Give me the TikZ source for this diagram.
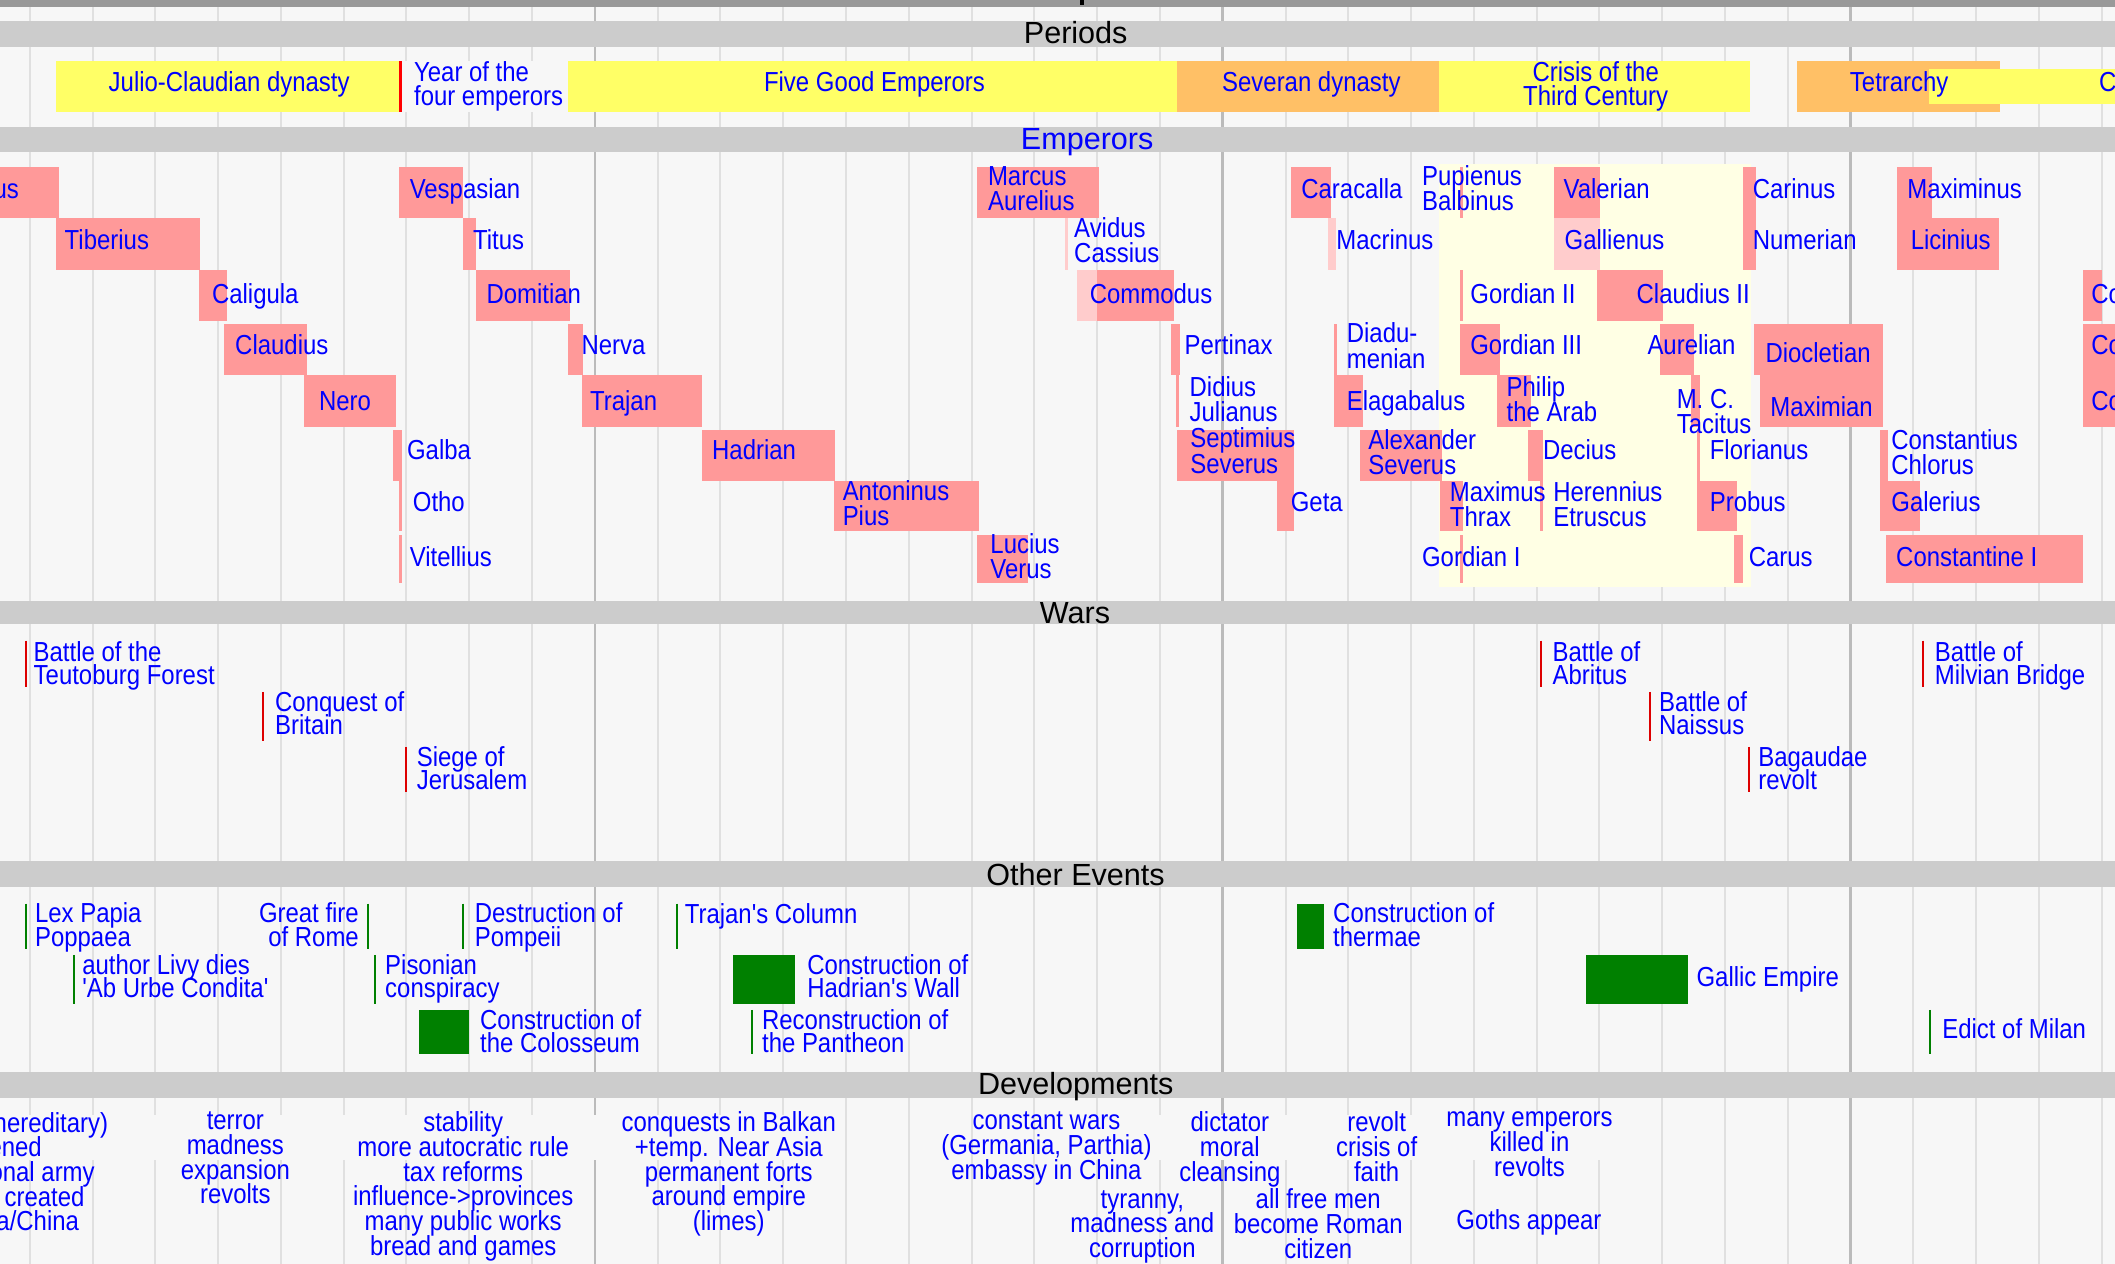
\documentclass[tikz,border=0pt]{standalone}
\usepackage{fontspec}
\newfontfamily\bodyf[FakeStretch=0.87]{Liberation Sans}
\newfontfamily\headf{Liberation Sans}
\definecolor{bgc}{HTML}{F7F7F7}
\definecolor{gminor}{HTML}{E0E0E0}
\definecolor{gmajor}{HTML}{BBBBBB}
\definecolor{bandc}{HTML}{CCCCCC}
\definecolor{topc}{HTML}{999999}
\definecolor{yel}{HTML}{FFFF66}
\definecolor{ora}{HTML}{FFC066}
\definecolor{pnk}{HTML}{FF9999}
\definecolor{lpnk}{HTML}{FFCCCC}
\definecolor{crm}{HTML}{FFFFE4}
\definecolor{txtb}{HTML}{0000FF}
\definecolor{warr}{HTML}{DD0000}
\definecolor{redl}{HTML}{FF0000}
\definecolor{evg}{HTML}{008000}
\lineskiplimit=-100pt
\begin{document}
\begin{tikzpicture}[x=0.75pt,y=-0.75pt,
 lab/.style={font=\bodyf\fontsize{15.3pt}{14pt}\selectfont,text=txtb,inner sep=0pt,outer sep=0pt,anchor=north west,align=left,yshift=11.3pt,execute at begin node={\rule{0pt}{11.3pt}}},
 labr/.style={lab,anchor=north east,align=right},
 wlab/.style={lab,font=\bodyf\fontsize{15.3pt}{13pt}\selectfont},
 wlabr/.style={wlab,anchor=north east,align=right},
 plab/.style={lab,font=\bodyf\fontsize{15.3pt}{13.6pt}\selectfont,anchor=north,align=center},
 pll/.style={lab,font=\bodyf\fontsize{15.3pt}{13.6pt}\selectfont},
 dlab/.style={lab,font=\bodyf\fontsize{15.3pt}{13.7pt}\selectfont,anchor=north,align=center},
 dend/.style={font=\bodyf\fontsize{15.3pt}{13.7pt}\selectfont,text=txtb,inner sep=0pt,outer sep=0pt,anchor=base east,text depth=0pt},
 head/.style={font=\headf\fontsize{17pt}{20pt}\selectfont,inner sep=0pt,anchor=base},
 warline/.style={draw=warr,line width=1.1pt},
 evline/.style={draw=evg,line width=1.1pt},
 gridmin/.style={draw=gminor,line width=1.1pt},
 gridmaj/.style={draw=gmajor,line width=1.5pt}]
\useasboundingbox (0,0) rectangle (1568,937);
\clip (0,0) rectangle (1568,937);
% background
\fill[bgc] (0,0) rectangle (1568,937);
% grid
\foreach \yr in {10,20,...,340}{\draw[gridmin] ({-24.5+4.655*\yr},5) -- ({-24.5+4.655*\yr},937);}
\foreach \yr in {100,200,300}{\draw[gridmaj] ({-24.5+4.655*\yr},5) -- ({-24.5+4.655*\yr},937);}
% top bar
\fill[topc] (0,0) rectangle (1568,5);
\fill[black] (801,0) rectangle (803.5,4);
% crisis area in emperors
\fill[crm] (1067,121.8) rectangle (1298,434.9);
% bands
\fill[bandc] (0,15.6) rectangle (1568,34.6);
\fill[bandc] (0,94) rectangle (1568,112.5);
\fill[bandc] (0,445.5) rectangle (1568,462.3);
\fill[bandc] (0,638.3) rectangle (1568,657.3);
\fill[bandc] (0,794.4) rectangle (1568,814);
% periods
\fill[yel] (41.6,45.2) rectangle (295.7,82.8);
\fill[redl] (295.8,45.2) rectangle (298,82.8);
\fill[bgc] (298,45.2) rectangle (421,82.8);
\fill[yel] (421,45.2) rectangle (872.5,82.8);
\fill[ora] (872.5,45.2) rectangle (1067,82.8);
\fill[yel] (1067,45.2) rectangle (1297.5,82.8);
\fill[ora] (1332.3,45.2) rectangle (1482.4,82.8);
\fill[yel] (1430,51) rectangle (1575,77);
% emperor boxes
\foreach \a/\b/\t/\u in {
 -5/43.4/124/161.6, 296/343.2/124/161.6, 724.4/814.4/124/161.6, 957/987/124/161.6,
 1082.5/1084.7/124/161.6, 1152/1186/124/161.6, 1292/1302/124/161.6, 1406/1432/124/161.6,
 41.4/148/161.6/200, 343/352.8/161.6/200, 1292/1302/161.6/200, 1406/1482/161.6/200,
 147.6/168.1/200/238, 352.8/422.3/200/238, 813/870.5/200/238, 1082.5/1084.7/200/238,
 1184/1232.6/200/238, 1544/1558.7/200/238,
 166.1/227.7/240/278, 421/432/240/278, 868/874.6/240/278, 988.9/991/240/278,
 1082.1/1111.8/240/278, 1230.5/1255.8/240/278, 1300.2/1395.7/240/278, 1544/1575/240/278,
 225.4/293.6/278/316.5, 431.5/520.5/278/316.5, 871.8/874.3/278/316.5, 988.9/1010.2/278/316.5,
 1109.6/1134.9/278/316.5, 1253.9/1260/278/316.5, 1304.5/1395.7/278/316.5, 1544/1575/278/316.5,
 291.2/297.8/318.8/356.6, 520.5/619.4/318.8/356.6, 872.6/959.1/318.8/356.6, 1008/1069.4/318.8/356.6,
 1133.1/1144/318.8/356.6, 1258.3/1260/318.8/356.6, 1393.5/1400/318.8/356.6,
 295.5/297.8/356.6/394, 618.3/725.8/356.6/394, 946.7/959.1/356.6/394, 1067.3/1084.7/356.6/394,
 1141.8/1144/356.6/394, 1257.9/1287.6/356.6/394, 1393.5/1423.1/356.6/394,
 295.5/297.8/396.6/432.4, 724.4/762/396.6/432.4, 1082.5/1084.7/396.6/432.4,
 1285.4/1292.2/396.6/432.4, 1398.2/1544/396.6/432.4}
 {\fill[pnk] (\a,\t) rectangle (\b,\u);}
\foreach \a/\b/\t/\u in {789.5/791.5/161.6/200, 984.6/990.8/161.6/200, 1152/1186/161.6/200, 798.5/813/200/238}
 {\fill[lpnk] (\a,\t) rectangle (\b,\u);}
% other events boxes
\fill[evg] (961.7,670) rectangle (981.8,703.7);
\fill[evg] (543.3,708) rectangle (589.5,744);
\fill[evg] (1175.7,708) rectangle (1251.7,744);
\fill[evg] (310.8,748.7) rectangle (347.8,781.6);
% developments gaps in grid
\fill[bgc] (0,826.5) rectangle (620,860);
\fill[bgc] (800,826.5) rectangle (1196,860);
% headers
\node[head] (hper) at (797.5,32.1) {Periods};
\node[head,text=txtb] (hemp) at (806,111.2) {Emperors};
\node[head] (hwar) at (797,462) {Wars};
\node[head] (hoth) at (797.4,656.8) {Other Events};
\node[head] (hdev) at (797.5,811.5) {Developments};
% period labels
\node[plab] (pjcd) at (169.9,68) {Julio-Claudian dynasty};
\node[pll] (pyfe) at (307,60.5) {Year of the\\four emperors};
\node[plab] (pfge) at (648.3,68) {Five Good Emperors};
\node[plab] (psev) at (972.2,68) {Severan dynasty};
\node[plab] (pctc) at (1183,60.5) {Crisis of the\\Third Century};
\node[plab] (ptet) at (1408,68) {Tetrarchy};
\node[pll] (pcod) at (1556.3,68) {Constantinian dynasty};
% emperors row 1
\node[labr] (augustus) at (14,147) {Augustus};
\node[lab] (vespasian) at (303.8,147) {Vespasian};
\node[lab] (marcus) at (732.5,138.4) {Marcus\\Aurelius};
\node[lab] (caracalla) at (964.8,147) {Caracalla};
\node[lab] (pupienus) at (1054.3,138) {Pupienus\\Balbinus};
\node[lab] (valerian) at (1159.2,147) {Valerian};
\node[lab] (carinus) at (1299.5,147) {Carinus};
\node[lab] (maximinus) at (1414.1,147) {Maximinus};
% row 2
\node[lab] (tiberius) at (48,185) {Tiberius};
\node[lab] (titus) at (350.8,185) {Titus};
\node[lab] (avidus) at (796.4,176) {Avidus\\Cassius};
\node[lab] (macrinus) at (990.7,185) {Macrinus};
\node[lab] (gallienus) at (1160,185) {Gallienus};
\node[lab] (numerian) at (1299.5,185) {Numerian};
\node[lab] (licinius) at (1416.6,185) {Licinius};
% row 3
\node[lab] (caligula) at (157.2,225) {Caligula};
\node[lab] (domitian) at (360.7,225) {Domitian};
\node[lab] (commodus) at (808,225) {Commodus};
\node[lab] (gordian2) at (1090.1,225) {Gordian II};
\node[lab] (claudius2) at (1213.4,225) {Claudius II};
\node[lab] (constantine2) at (1550.5,225) {Constantine II};
% row 4
\node[lab] (claudius) at (174.4,262.5) {Claudius};
\node[lab] (nerva) at (431.2,262.5) {Nerva};
\node[lab] (pertinax) at (878.3,262.5) {Pertinax};
\node[lab] (diadumenian) at (998.5,254.5) {Diadu-\\menian};
\node[lab] (gordian3) at (1090,262.5) {Gordian III};
\node[lab] (aurelian) at (1221.4,262.5) {Aurelian};
\node[lab] (diocletian) at (1308.9,269) {Diocletian};
\node[lab] (constantius2) at (1550.5,262.5) {Constantius II};
% row 5
\node[lab] (nero) at (236.6,304) {Nero};
\node[lab] (trajan) at (437.5,304) {Trajan};
\node[lab] (didius) at (882,294) {Didius\\Julianus};
\node[lab] (elagabalus) at (998.5,304) {Elagabalus};
\node[lab] (philip) at (1117,294) {Philip\\the Arab};
\node[lab] (tacitus) at (1243.1,303.4) {M. C.\\Tacitus};
\node[lab] (maximian) at (1312.5,309) {Maximian};
\node[lab] (constans) at (1550.5,304) {Constans};
% row 6
\node[lab] (galba) at (301.8,341) {Galba};
\node[lab] (hadrian) at (528,341) {Hadrian};
\node[lab] (septimius) at (882.5,332.3) {Septimius\\Severus};
\node[lab] (alexander) at (1014.5,333.6) {Alexander\\Severus};
\node[lab] (decius) at (1144,341) {Decius};
\node[lab] (florianus) at (1267.6,341) {Florianus};
\node[lab] (chlorus) at (1402.2,333.6) {Constantius\\Chlorus};
% row 7
\node[lab] (otho) at (306.1,379.3) {Otho};
\node[lab] (antoninus) at (624.8,371.2) {Antoninus\\Pius};
\node[lab] (geta) at (957,379.3) {Geta};
\node[lab] (thrax) at (1074.9,371.9) {Maximus\\Thrax};
\node[lab] (herennius) at (1151.6,371.9) {Herennius\\Etruscus};
\node[lab] (probus) at (1267.6,379.3) {Probus};
\node[lab] (galerius) at (1402.2,379.3) {Galerius};
% row 8
\node[lab] (vitellius) at (303.8,420) {Vitellius};
\node[lab] (lucius) at (734.3,410.7) {Lucius\\Verus};
\node[lab] (gordian1) at (1054.3,420) {Gordian I};
\node[lab] (carus) at (1296.5,420) {Carus};
\node[lab] (constantine1) at (1405.8,420) {Constantine I};
% wars
\coordinate (w1a) at (19,475); \coordinate (w1b) at (19,509);
\coordinate (w2a) at (195,513); \coordinate (w2b) at (195,549);
\coordinate (w3a) at (300.7,553.7); \coordinate (w3b) at (300.7,587);
\coordinate (w4a) at (1142.4,475); \coordinate (w4b) at (1142.4,509);
\coordinate (w5a) at (1223,513); \coordinate (w5b) at (1223,549);
\coordinate (w6a) at (1297,553.7); \coordinate (w6b) at (1297,587);
\coordinate (w7a) at (1426,475); \coordinate (w7b) at (1426,509);
\foreach \i in {1,...,7}{\draw[warline] (w\i a) -- (w\i b);}
\node[wlab] (teutoburg) at (25,490.5) {Battle of the\\Teutoburg Forest};
\node[wlab] (britain) at (204,527.6) {Conquest of\\Britain};
\node[wlab] (jerusalem) at (309,568.3) {Siege of\\Jerusalem};
\node[wlab] (abritus) at (1151,490.5) {Battle of\\Abritus};
\node[wlab] (naissus) at (1230,527.6) {Battle of\\Naissus};
\node[wlab] (bagaudae) at (1303.6,568.3) {Bagaudae\\revolt};
\node[wlab] (milvian) at (1434.5,490.5) {Battle of\\Milvian Bridge};
% other events
\coordinate (e1a) at (19,670); \coordinate (e1b) at (19,703.7);
\coordinate (e2a) at (273,670); \coordinate (e2b) at (273,703.7);
\coordinate (e3a) at (343.3,670); \coordinate (e3b) at (343.3,703.7);
\coordinate (e4a) at (501.7,670); \coordinate (e4b) at (501.7,703.7);
\coordinate (e5a) at (55,708); \coordinate (e5b) at (55,744);
\coordinate (e6a) at (277.7,708); \coordinate (e6b) at (277.7,744);
\coordinate (e7a) at (557.3,748.7); \coordinate (e7b) at (557.3,781.6);
\coordinate (e8a) at (1431,748.7); \coordinate (e8b) at (1431,781.6);
\foreach \i in {1,...,8}{\draw[evline] (e\i a) -- (e\i b);}
\node[wlab] (lexpapia) at (26,684.5) {Lex Papia\\Poppaea};
\node[wlabr] (greatfire) at (266,684.5) {Great fire\\of Rome};
\node[wlab] (pompeii) at (352,684.5) {Destruction of\\Pompeii};
\node[wlab] (trajancol) at (507.7,684.5) {Trajan's Column};
\node[wlab] (thermae) at (988.4,684.5) {Construction of\\thermae};
\node[wlab] (livy) at (61,722.8) {author Livy dies\\'Ab Urbe Condita'};
\node[wlab] (pisonian) at (285.6,722.8) {Pisonian\\conspiracy};
\node[wlab] (hadwall) at (598.5,722.8) {Construction of\\Hadrian's Wall};
\node[wlab] (gallic) at (1257.8,731.4) {Gallic Empire};
\node[wlab] (colosseum) at (356,763.5) {Construction of\\the Colosseum};
\node[wlab] (pantheon) at (565,763.5) {Reconstruction of\\the Pantheon};
\node[wlab] (milan) at (1440,769.7) {Edict of Milan};
% developments
\node[dend] (d0a) at (80.2,839.5) {Principate (hereditary)};
\node[dend] (d0b) at (31,857.7) {frontiers strengthened};
\node[dend] (d0c) at (70.2,875.9) {professional army};
\node[dend] (d0d) at (62.7,894.1) {Praetorian Guard created};
\node[dend] (d0e) at (58.6,912.3) {trade with India/China};
\node[dlab] (d1) at (174.5,839.5) {terror\\madness\\expansion\\revolts};
\node[dlab] (d2) at (343.4,839.5) {stability\\more autocratic rule\\tax reforms\\influence->provinces\\many public works\\bread and games};
\node[dlab] (d3) at (540.3,839.5) {conquests in Balkan\\+temp. Near Asia\\permanent forts\\around empire\\(limes)};
\node[dlab] (d4) at (775.8,839.5) {constant wars\\(Germania, Parthia)\\embassy in China};
\node[dlab] (d5) at (846.9,897.5) {tyranny,\\madness and\\corruption};
\node[dlab] (d6) at (911.8,839.5) {dictator\\moral\\cleansing};
\node[dlab] (d7) at (977.3,896.5) {all free men\\become Roman\\citizen};
\node[dlab] (d8) at (1020.6,839.5) {revolt\\crisis of\\faith};
\node[dlab] (d9) at (1133.9,839.5) {many emperors\\killed in\\revolts};
\node[dlab] (d10) at (1133.5,911.5) {Goths appear};
\end{tikzpicture}
\end{document}
